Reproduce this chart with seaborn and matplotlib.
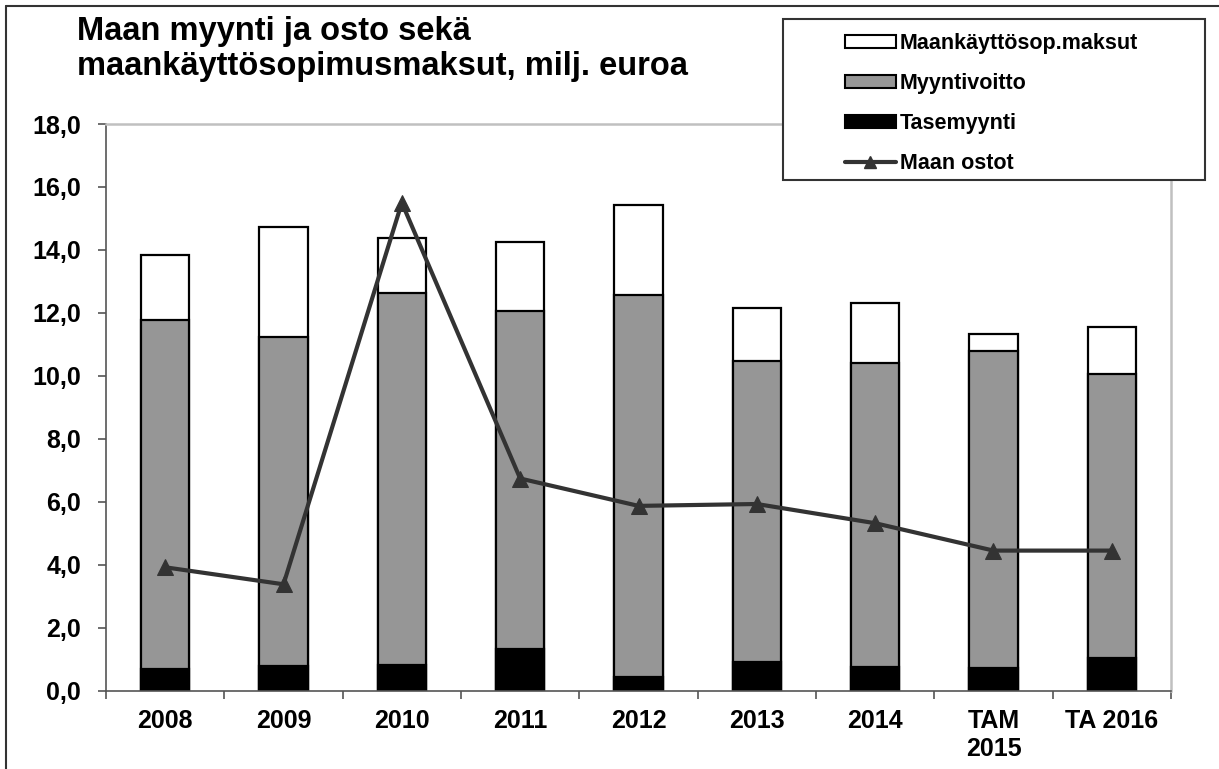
import numpy as np
import pandas as pd
import matplotlib
matplotlib.use('Agg')
import matplotlib.pyplot as plt
import seaborn as sns
from matplotlib.patches import Patch, Rectangle
from matplotlib.lines import Line2D

# Data (milj. euroa)
years = ['2008', '2009', '2010', '2011', '2012', '2013', '2014', 'TAM\n2015', 'TA 2016']
tasemyynti = [0.68, 0.78, 0.81, 1.34, 0.44, 0.92, 0.76, 0.73, 1.04]
myyntivoitto = [11.10, 10.47, 11.83, 10.72, 12.14, 9.54, 9.66, 10.05, 9.02]
maankaytto = [2.05, 3.48, 1.73, 2.19, 2.86, 1.68, 1.91, 0.54, 1.49]
maan_ostot = [3.92, 3.38, 15.5, 6.74, 5.87, 5.93, 5.32, 4.45, 4.45]

df = pd.DataFrame({'vuosi': years, 'tase': tasemyynti, 'voitto': myyntivoitto,
                   'maksut': maankaytto, 'ostot': maan_ostot})
# cumulative heights for stacking
df['gray_top'] = df['tase'] + df['voitto']
df['total'] = df['gray_top'] + df['maksut']

sns.set_style('white')
plt.rcParams['font.family'] = ['Liberation Sans', 'DejaVu Sans']
plt.rcParams['font.weight'] = 'bold'
plt.rcParams['text.color'] = 'black'
plt.rcParams['xtick.labelcolor'] = 'black'
plt.rcParams['ytick.labelcolor'] = 'black'

fig = plt.figure(figsize=(12.19, 7.69), dpi=100)
ax = fig.add_axes([106 / 1219, 1 - 690.7 / 769, (1171 - 106) / 1219, (690.7 - 124) / 769])

bw = 0.41
sns.barplot(data=df, x='vuosi', y='total', color='white', edgecolor='black',
            linewidth=1.6, width=bw, saturation=1, ax=ax, zorder=2)
sns.barplot(data=df, x='vuosi', y='gray_top', color='#969696', edgecolor='black',
            linewidth=1.6, width=bw, saturation=1, ax=ax, zorder=2)
sns.barplot(data=df, x='vuosi', y='tase', color='black', edgecolor='black',
            linewidth=1.6, width=bw, saturation=1, ax=ax, zorder=2)

sns.lineplot(x=np.arange(len(years)), y=df['ostot'], color='#333333', linewidth=3,
             marker='^', markersize=12, markeredgecolor='#333333', ax=ax, zorder=3)

ax.set_xlim(-0.5, len(years) - 0.5)
ax.set_ylim(0, 18)
ax.set_xlabel('')
ax.set_ylabel('')

# y axis
yt = np.arange(0, 18.1, 2)
ax.set_yticks(yt)
ax.set_yticklabels([f'{v:.1f}'.replace('.', ',') for v in yt])
ax.tick_params(axis='y', length=6, width=1.2, color='#555555', pad=12,
               labelsize=18, left=True)

# x axis: boundary ticks as major, labels on minor ticks
ax.set_xticks(np.arange(-0.5, len(years), 1))
ax.set_xticklabels([])
ax.set_xticks(np.arange(len(years)), minor=True)
ax.set_xticklabels(years, minor=True, fontsize=18, fontweight='bold')
ax.tick_params(axis='x', which='major', length=6, width=1.2, color='#555555',
               bottom=True, direction='out')
ax.tick_params(axis='x', which='minor', length=0, pad=13)
for lab in ax.get_yticklabels():
    lab.set_fontweight('bold')

for s in ['left', 'bottom']:
    ax.spines[s].set_color('#555555')
    ax.spines[s].set_linewidth(1.2)
for s in ['top', 'right']:
    ax.spines[s].set_color('#c0c0c0')
    ax.spines[s].set_linewidth(1.8)
ax.grid(False)

# title
fig.text(77 / 1219, 1 - 40 / 769, 'Maan myynti ja osto sekä', fontsize=23.5,
         fontweight='bold', ha='left', va='baseline')
fig.text(77 / 1219, 1 - 75 / 769, 'maankäyttösopimusmaksut, milj. euroa', fontsize=23.5,
         fontweight='bold', ha='left', va='baseline')

# legend box
box = Rectangle((783 / 1219, 1 - 180 / 769), (1205 - 783) / 1219, (180 - 19) / 769,
                transform=fig.transFigure, facecolor='white', edgecolor='#333333',
                linewidth=1.5, zorder=4)
fig.patches.append(box)

handles = [
    Patch(facecolor='white', edgecolor='black', linewidth=1.5, label='Maankäyttösop.maksut'),
    Patch(facecolor='#969696', edgecolor='black', linewidth=1.5, label='Myyntivoitto'),
    Patch(facecolor='black', edgecolor='black', linewidth=1.5, label='Tasemyynti'),
    Line2D([], [], color='#333333', linewidth=3, marker='^', markersize=9,
           label='Maan ostot'),
]
leg = fig.legend(handles=handles, loc='upper left',
                 bbox_to_anchor=(845 / 1219, 1 - 33 / 769), frameon=False,
                 fontsize=15.5, handlelength=2.35, handleheight=0.55,
                 handletextpad=0.2, labelspacing=0.88, borderpad=0, borderaxespad=0)
leg.set_zorder(5)
for t in leg.get_texts():
    t.set_fontweight('bold')

# outer frame (left and top edges visible)
fig.add_artist(Line2D([6 / 1219, 6 / 1219], [0, 1 - 6 / 769], color='#333333',
                      linewidth=1.5, transform=fig.transFigure))
fig.add_artist(Line2D([6 / 1219, 1], [1 - 6 / 769, 1 - 6 / 769], color='#333333',
                      linewidth=1.5, transform=fig.transFigure))

fig.savefig('out.png', dpi=100)
